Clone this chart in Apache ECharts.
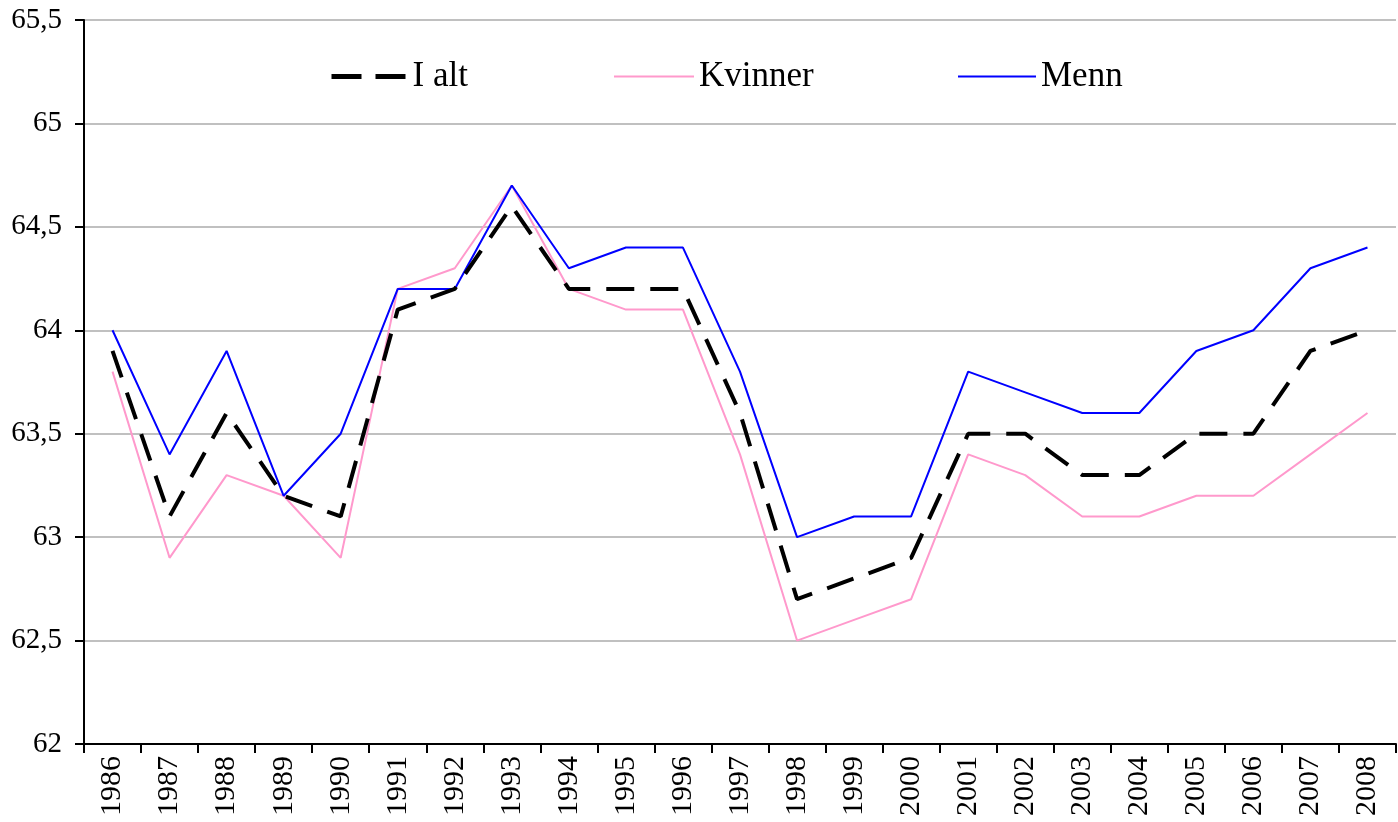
<!DOCTYPE html>
<html>
<head>
<meta charset="utf-8">
<script src="https://cdn.jsdelivr.net/npm/echarts@6/dist/echarts.min.js"></script>
<style>html,body{margin:0;padding:0;background:#fff}#c{width:1398px;height:822px}</style>
</head>
<body>
<div id="c"></div>
<script>
const years = ['1986','1987','1988','1989','1990','1991','1992','1993','1994','1995','1996','1997','1998','1999','2000','2001','2002','2003','2004','2005','2006','2007','2008'];
const iAlt = [63.9,63.1,63.6,63.2,63.1,64.1,64.2,64.6,64.2,64.2,64.2,63.6,62.7,62.8,62.9,63.5,63.5,63.3,63.3,63.5,63.5,63.9,64.0];
const kvinner = [63.8,62.9,63.3,63.2,62.9,64.2,64.3,64.7,64.2,64.1,64.1,63.4,62.5,62.6,62.7,63.4,63.3,63.1,63.1,63.2,63.2,63.4,63.6];
const menn = [64.0,63.4,63.9,63.2,63.5,64.2,64.2,64.7,64.3,64.4,64.4,63.8,63.0,63.1,63.1,63.8,63.7,63.6,63.6,63.9,64.0,64.3,64.4];
const seriesNames = ['I alt','Kvinner','Menn'];

const font = '"Liberation Serif","Times New Roman",serif';
const chart = echarts.init(document.getElementById('c'), null, {renderer:'canvas'});
const legendBase = {
  top: 54, itemWidth: 80, itemHeight: 20, itemGap: 10,
  textStyle: {fontFamily: font, fontSize: 35, color: '#000'},
  itemStyle: {opacity: 0},
  selectedMode: false
};
chart.setOption({
  animation: false,
  grid: {left: 84, right: 2, top: 20, bottom: 78, containLabel: false},
  legend: [
    Object.assign({}, legendBase, {left: 324, itemWidth: 76, data: [seriesNames[0]],
      lineStyle: {color: '#000', width: 5, type: [30, 14]}}),
    Object.assign({}, legendBase, {left: 608, data: [seriesNames[1]]}),
    Object.assign({}, legendBase, {left: 952, itemWidth: 78, data: [seriesNames[2]]})
  ],
  xAxis: {
    type: 'category', data: years, boundaryGap: true,
    axisLine: {lineStyle: {color: '#000', width: 2}},
    axisTick: {show: true, alignWithLabel: false, interval: 0, length: 9, lineStyle: {color: '#000', width: 2}},
    axisLabel: {rotate: 90, interval: 0, margin: 12, fontFamily: font, fontSize: 30, color: '#000'},
    splitLine: {show: false}
  },
  yAxis: {
    type: 'value', min: 62, max: 65.5, interval: 0.5,
    axisLine: {show: true, lineStyle: {color: '#000', width: 2}},
    axisTick: {show: true, length: 9, lineStyle: {color: '#000', width: 2}},
    axisLabel: {margin: 22, fontFamily: font, fontSize: 29, color: '#000',
      formatter: v => String(v).replace('.', ',')},
    splitLine: {show: true, lineStyle: {color: '#c0c0c0', width: 2}}
  },
  series: [
    {name: seriesNames[0], type: 'line', data: iAlt, symbol: 'none', z: 3,
      itemStyle: {color: '#000'},
      lineStyle: {color: '#000', width: 4, type: [28, 16]}},
    {name: seriesNames[1], type: 'line', data: kvinner, symbol: 'none', z: 2,
      itemStyle: {color: '#ff99cc'},
      lineStyle: {color: '#ff99cc', width: 2}},
    {name: seriesNames[2], type: 'line', data: menn, symbol: 'none', z: 2,
      itemStyle: {color: '#0000ff'},
      lineStyle: {color: '#0000ff', width: 2}}
  ]
});
</script>
</body>
</html>
